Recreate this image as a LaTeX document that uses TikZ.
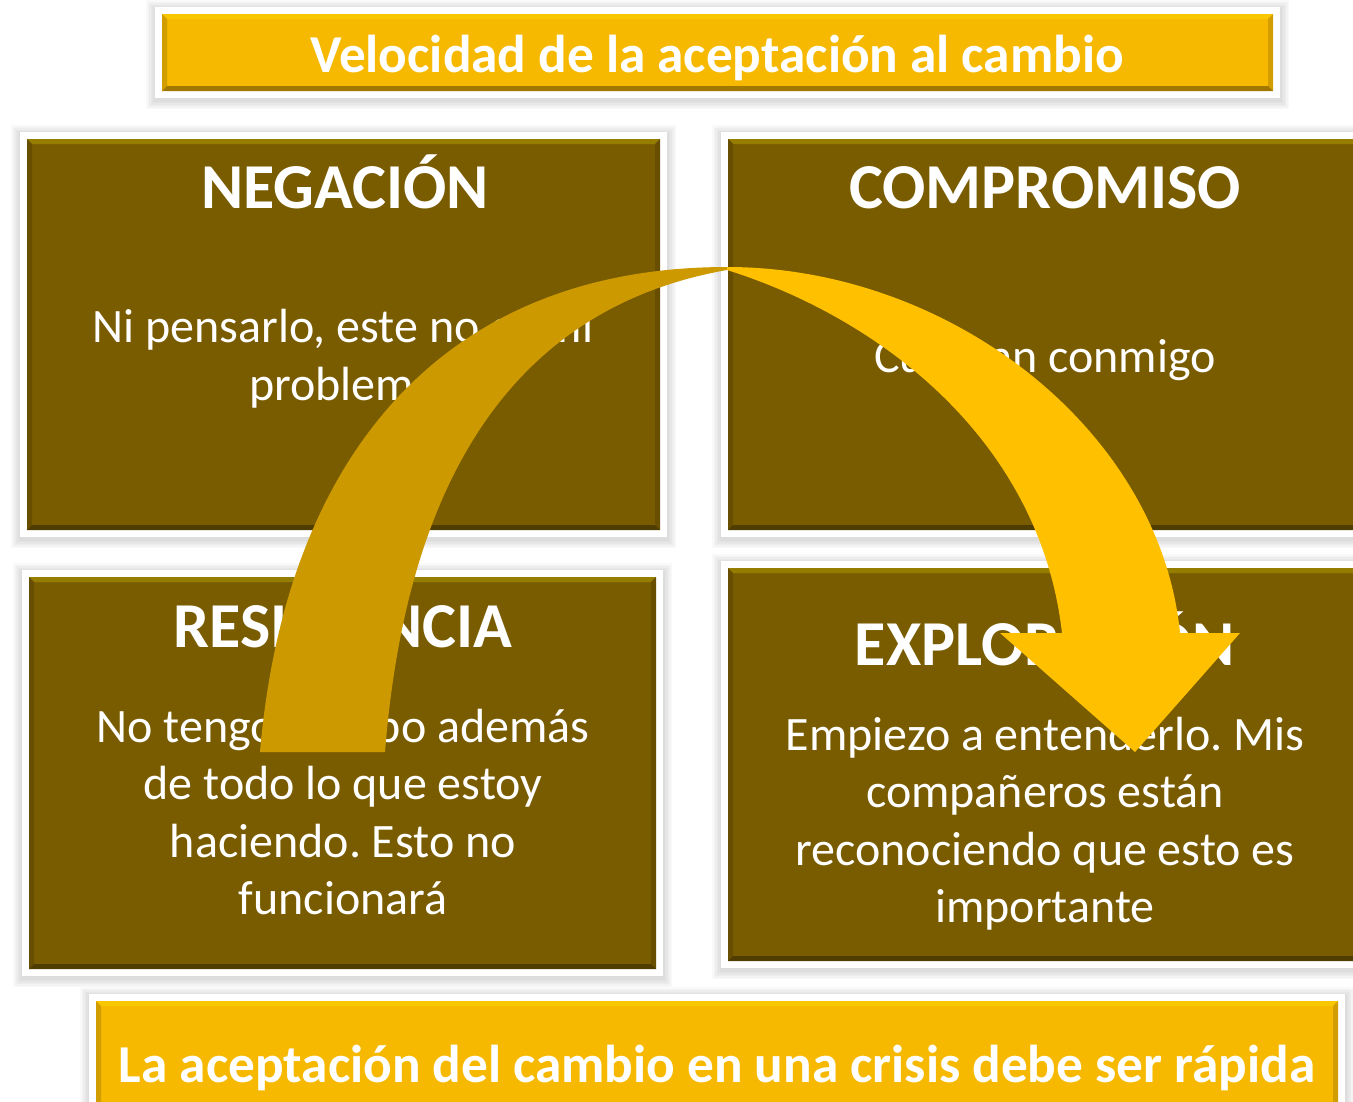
\documentclass[tikz,border=0pt]{standalone}
\usepackage{fontspec}
\setmainfont{Carlito}
\usepackage{tikz}
\usetikzlibrary{calc}
\usetikzlibrary{positioning}

\definecolor{brownfill}{RGB}{122,92,0}
\definecolor{goldfill}{RGB}{246,185,0}
\definecolor{arrowdark}{RGB}{204,154,0}
\definecolor{arrowlight}{RGB}{255,192,0}

\begin{document}
\frenchspacing
\begin{tikzpicture}[x=1bp, y=-1bp,
    panelbox/.style={inner sep=0pt, outer sep=0pt, draw=none},
    heading/.style={white, font=\fontsize{64bp}{72bp}\selectfont\bfseries, anchor=base, inner sep=0pt},
    bodytext/.style={white, font=\fontsize{48bp}{57bp}\selectfont, anchor=base, inner sep=0pt},
    banner/.style={white, font=\fontsize{53.3bp}{60bp}\selectfont\bfseries, anchor=base, inner sep=0pt}]

 \useasboundingbox (0,0) rectangle (1353,1101);
 \clip (0,0) rectangle (1353,1101);

	%framed panel: name, x1, y1, x2, y2, colour
 \def\panel#1#2#3#4#5#6{
    \foreach \s in {1,...,6}{
        \fill[black, opacity=0.025] (#2-7-\s*1.5, #3-7-\s*1.5+2) rectangle (#4+7+\s*1.5, #5+7+\s*1.5+2);
    }
    \fill[white] (#2-7,#3-7) rectangle (#4+7,#5+7);
    \node[panelbox, fill=#6, minimum width={(#4-#2)*1bp}, minimum height={(#5-#3)*1bp}] (#1) at ({(#2+#4)/2},{(#3+#5)/2}) {};
    \fill[#6!80!yellow] (#1.north west) -- (#1.north east) -- ++(-5,5) -- ([shift={(5,5)}]#1.north west) -- cycle;
    \fill[#6!85!black] (#1.north west) -- ([shift={(5,5)}]#1.north west) -- ([shift={(5,-5)}]#1.south west) -- (#1.south west) -- cycle;
    \fill[#6!85!black] (#1.north east) -- ([shift={(-5,5)}]#1.north east) -- ([shift={(-5,-5)}]#1.south east) -- (#1.south east) -- cycle;
    \fill[#6!65!black] (#1.south west) -- (#1.south east) -- ([shift={(-5,-5)}]#1.south east) -- ([shift={(5,-5)}]#1.south west) -- cycle;
 }

	%panels
 \panel{title}{162}{14}{1273}{91}{goldfill}
 \panel{neg}{27}{139}{660}{530}{brownfill}
 \panel{com}{728}{139}{1361}{530}{brownfill}
 \panel{res}{29}{577}{656}{969}{brownfill}
 \panel{exp}{728}{568}{1361}{961}{brownfill}
 \panel{foot}{96}{1001}{1338}{1110}{goldfill}

	%banners
 \node[banner] (title-text) at (717,72) {Velocidad de la aceptación al cambio};
 \node[banner] (foot-text) at (717,1082) {La aceptación del cambio en una crisis debe ser rápida};

	%headings
 \node[heading] (neg-title) at (345,208) {NEGACIÓN};
 \node[heading] (com-title) at (1045,208) {COMPROMISO};
 \node[heading] (res-title) at (343,647) {RESISTENCIA};
 \node[heading] (exp-title) at (1045,665) {EXPLORACIÓN};

	%texts
    \foreach \t [count=\i] in {{Ni pensarlo, este no es mi},problema}{
        \node[bodytext] (neg-\i) at (343,{342+(\i-1)*58}) {\t};
    }
 \node[bodytext] (com-1) at (1045,372) {Cuentan conmigo};
    \foreach \t [count=\i] in {No tengo tiempo además,de todo lo que estoy,haciendo. Esto no,funcionará}{
        \node[bodytext] (res-\i) at (343,{742+(\i-1)*57.5}) {\t};
    }
    \foreach \t [count=\i] in {Empiezo a entenderlo. Mis,compañeros están,reconociendo que esto es,importante}{
        \node[bodytext] (exp-\i) at (1045,{750+(\i-1)*57.5}) {\t};
    }

	%arrow
 \fill[arrowdark] (260,752) .. controls (285,460) and (440,267) .. (727,267)
    -- (727,270) .. controls (500,310) and (405,500) .. (385,752) -- cycle;
 \fill[arrowlight] (727,267) .. controls (950,267) and (1160,430) .. (1180,633)
    -- (1240,633) -- (1135,752) -- (1000,633) -- (1062,633)
    .. controls (1040,440) and (880,318) .. (727,270) -- cycle;

\end{tikzpicture}
\end{document}
